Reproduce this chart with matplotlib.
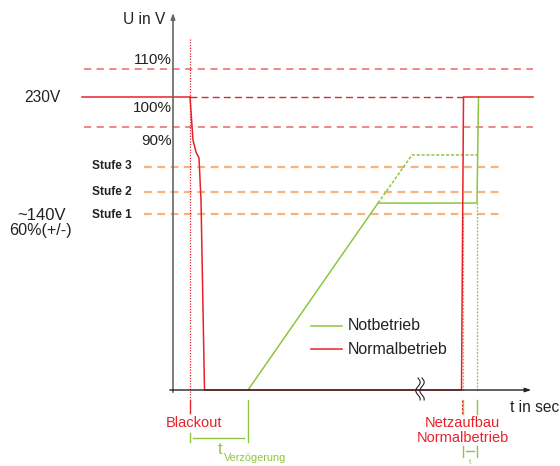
import numpy as np
import matplotlib
matplotlib.use("Agg")
import matplotlib.pyplot as plt

plt.rcParams['font.family'] = ['Liberation Sans', 'DejaVu Sans']

# ---- data (x in time units ~ px, y in percent of 230 V) ----
Y_SCALE = 2.93            # px per percent
Y0_PX = 390               # pixel row of 0 V
levels_pct = {"110%": 109.6, "100%": 100.0, "90%": 89.8}
stufen_names = ["Stufe 3", "Stufe 2", "Stufe 1"]
stufen_pct = [76.1, 67.6, 60.1]

normal_x = [190, 193, 196, 199, 201, 204.5, 461.5, 463.5, 533]
normal_y = [100, 85.3, 81.2, 79.2, 64.8, 0, 0, 100, 100]

not_x = [248, 378, 477, 478.5]
not_y = [0, 63.8, 63.8, 100]
not_dot_x = [378, 412, 477]
not_dot_y = [63.8, 80.2, 80.2]

t_blackout = 190
t_delay_end = 248
t_netz = 461.5
t_netz_g = 463
t_not = 477


def P(py):
    """pixel row -> percent coordinate"""
    return (Y0_PX - py) / Y_SCALE


RED = '#e8212b'
LRED = '#ef7d7d'
GREEN = '#8dc63f'
ORANGE = '#f8b27a'

fig = plt.figure(figsize=(5.6, 4.66), dpi=100)
ax = fig.add_axes([0, 0, 1, 1])
ax.set_xlim(0, 560)
ax.set_ylim(P(466), P(0))
ax.axis('off')

# reference lines
ax.plot([84, 533], [levels_pct["110%"]] * 2, color=LRED, lw=1.3, dashes=(4, 3))
ax.plot([84, 533], [levels_pct["90%"]] * 2, color=LRED, lw=1.3, dashes=(4, 3))
ax.plot([82, t_blackout], [100, 100], color=RED, lw=1.1)
ax.plot([t_blackout, 463], [100, 100], color='#d9282f', lw=1.0, dashes=(5, 3))
for v in stufen_pct:
    ax.plot([144, 502], [v, v], color=ORANGE, lw=1.6, dashes=(3.5, 2.5))

# axes
ax.annotate('', xy=(173, P(10)), xytext=(173, P(395)),
            arrowprops=dict(arrowstyle='-|>,head_length=0.35,head_width=0.12', color='#666666', lw=1.2))
ax.annotate('', xy=(534, 0), xytext=(167, 0),
            arrowprops=dict(arrowstyle='-|>,head_length=0.35,head_width=0.12', color='#222222', lw=1.0))

# blackout dotted line
ax.plot([t_blackout, t_blackout], [P(39), P(398)], color=RED, lw=0.9, dashes=(1, 1.2))

# green dotted verticals
ax.plot([t_netz_g, t_netz_g], [P(213), 0], color=GREEN, lw=0.9, dashes=(1.5, 1.2))
ax.plot([t_not, t_not], [63.8, 0], color=GREEN, lw=0.9, dashes=(1.5, 1.2))

# curves
ax.plot(not_dot_x, not_dot_y, color=GREEN, lw=1.1, dashes=(2, 1.2))
ax.plot(not_x, not_y, color=GREEN, lw=1.1)
ax.plot(normal_x, normal_y, color=RED, lw=1.1)

# wavy break symbol
tt = np.linspace(0, 1, 40)
for dx in (0, 4):
    ax.plot(418 + dx + 2.2 * np.sin(tt * 2 * np.pi * 1.3), P(378 + 22 * tt), color='#222222', lw=0.8)

# ticks below axis
ax.plot([t_blackout] * 2, [P(400), P(413)], color=RED, lw=1.0)
ax.plot([t_blackout] * 2, [P(433), P(442)], color=GREEN, lw=1.0)
ax.plot([t_delay_end] * 2, [P(400), P(442)], color=GREEN, lw=1.0)
ax.plot([193, 244], [P(438), P(438)], color=GREEN, lw=1.0)
ax.plot([t_netz] * 2, [P(400), P(414)], color=RED, lw=0.9, dashes=(2, 1))
ax.plot([t_netz_g] * 2, [P(400), P(414)], color=GREEN, lw=1.0)
ax.plot([t_not] * 2, [P(400), P(414)], color=GREEN, lw=1.0)
ax.plot([t_netz_g] * 2, [P(446), P(457)], color=GREEN, lw=1.0)
ax.plot([t_not] * 2, [P(446), P(457)], color=GREEN, lw=1.0)
ax.plot([466, 474], [P(451), P(451)], color=GREEN, lw=1.0)

# legend
ax.plot([311, 342], [P(326), P(326)], color=GREEN, lw=1.1)
ax.plot([311, 342], [P(349), P(349)], color=RED, lw=1.1)
ax.text(348, P(326), 'Notbetrieb', fontsize=11.4, color='#222222', va='center', ha='left')
ax.text(348, P(349), 'Normalbetrieb', fontsize=11.4, color='#222222', va='center', ha='left')

# labels
TXT = '#222222'
ax.text(165, P(19), 'U in V', fontsize=11.2, color=TXT, ha='right', va='center')
ax.text(172, P(60), '110%', fontsize=11, color=TXT, ha='right', va='center')
ax.text(172, P(107.5), '100%', fontsize=11, color=TXT, ha='right', va='center')
ax.text(172, P(140.7), '90%', fontsize=11, color=TXT, ha='right', va='center')
ax.text(42, P(98), '230V', fontsize=11.2, color=TXT, ha='center', va='center')
ax.text(42, P(216), '~140V', fontsize=12, color=TXT, ha='center', va='center')
ax.text(40.5, P(231), '60%(+/-)', fontsize=11.6, color=TXT, ha='center', va='center')
for name, py in zip(stufen_names, [166, 191.7, 215]):
    ax.text(111.5, P(py), name, fontsize=8.6, color=TXT, ha='center', va='center', fontweight='bold')
ax.text(510, P(408), 't in sec', fontsize=11.2, color=TXT, ha='left', va='center')

ax.text(194, P(422.7), 'Blackout', fontsize=10.5, color=RED, ha='center', va='center')
ax.text(462.7, P(422.7), 'Netzaufbau', fontsize=10.5, color=RED, ha='center', va='center')
ax.text(462.7, P(438.5), 'Normalbetrieb', fontsize=10.5, color=RED, ha='center', va='center')
ax.text(220, P(449), 't', fontsize=12, color=GREEN, ha='center', va='center')
ax.text(223.5, P(458), 'Verzögerung', fontsize=7.8, color=GREEN, ha='left', va='center')
ax.text(470, P(462), 't', fontsize=6, color=GREEN, ha='center', va='center')

fig.savefig('out.png', dpi=100)
